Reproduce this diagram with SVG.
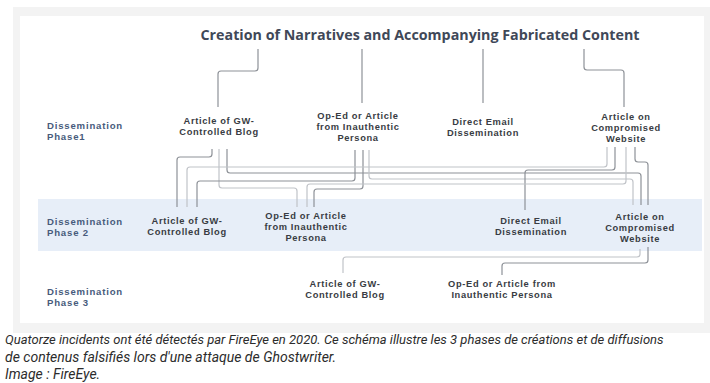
<svg xmlns="http://www.w3.org/2000/svg" width="710" height="383" viewBox="0 0 710 383">
<style>
.title{font-family:"Open Sans","Liberation Sans",sans-serif;font-weight:700;font-size:14.5px;fill:#3f4858;text-anchor:middle}
.ph{font-family:"Liberation Sans",Arial,sans-serif;font-weight:700;font-size:9.6px;fill:#485b7c;letter-spacing:0.8px}
.nd{font-family:"Liberation Sans",Arial,sans-serif;font-weight:700;font-size:9.3px;fill:#393c43;text-anchor:middle;letter-spacing:0.65px}
.cap{font-family:Roboto,"Liberation Sans",sans-serif;font-style:italic;font-size:14px;fill:#2c2c2c}
.cap1{font-size:13px}
.ln{fill:none;stroke:#8e9298;stroke-width:1.2}
.lt{fill:none;stroke:#c0c3c8;stroke-width:1.2}
</style>
<rect x="0" y="0" width="710" height="383" fill="#ffffff"/>
<rect x="13" y="7" width="697" height="326" fill="#f3f3f3"/>
<rect x="20" y="16" width="684" height="307" fill="#ffffff"/>
<rect x="38" y="199" width="664" height="52" fill="#e7eef8"/>

<text class="title" x="420" y="40" textLength="439" lengthAdjust="spacingAndGlyphs">Creation of Narratives and Accompanying Fabricated Content</text>

<g id="phase1-label"><text class="ph" x="47" y="129">Dissemination</text><text class="ph" x="47" y="140">Phase1</text></g>
<g id="phase2-label"><text class="ph" x="47" y="224.5">Dissemination</text><text class="ph" x="47" y="235.5">Phase 2</text></g>
<g id="phase3-label"><text class="ph" x="47" y="294.5">Dissemination</text><text class="ph" x="47" y="305.5">Phase 3</text></g>

<g id="p1-blog"><text class="nd" x="219" y="124">Article of GW-</text><text class="nd" x="219" y="135">Controlled Blog</text></g>
<g id="p1-oped"><text class="nd" x="358" y="119">Op-Ed or Article</text><text class="nd" x="358" y="130">from Inauthentic</text><text class="nd" x="358" y="141">Persona</text></g>
<g id="p1-email"><text class="nd" x="483" y="125">Direct Email</text><text class="nd" x="483" y="136">Dissemination</text></g>
<g id="p1-site"><text class="nd" x="626" y="119.5">Article on</text><text class="nd" x="626" y="130.5">Compromised</text><text class="nd" x="626" y="141.5">Website</text></g>

<g id="p2-blog"><text class="nd" x="187" y="224">Article of GW-</text><text class="nd" x="187" y="235">Controlled Blog</text></g>
<g id="p2-oped"><text class="nd" x="306" y="219">Op-Ed or Article</text><text class="nd" x="306" y="230">from Inauthentic</text><text class="nd" x="306" y="241">Persona</text></g>
<g id="p2-email"><text class="nd" x="531" y="224">Direct Email</text><text class="nd" x="531" y="235">Dissemination</text></g>
<g id="p2-site"><text class="nd" x="640" y="219.5">Article on</text><text class="nd" x="640" y="230.5">Compromised</text><text class="nd" x="640" y="241.5">Website</text></g>

<g id="p3-blog"><text class="nd" x="345" y="287">Article of GW-</text><text class="nd" x="345" y="298">Controlled Blog</text></g>
<g id="p3-oped"><text class="nd" x="502" y="287">Op-Ed or Article from</text><text class="nd" x="502" y="298">Inauthentic Persona</text></g>

<g id="connectors">
<path class="ln" d="M258,49 V68 Q258,71 255,71 H221 Q218,71 218,74 V107"/>
<path class="ln" d="M362,49 V103"/>
<path class="ln" d="M483,49 V103"/>
<path class="ln" d="M584,49 V67 Q584,70 587,70 H621 Q624,70 624,73 V107"/>

<path class="ln" d="M212,149 V154 Q212,157 209,157 H180 Q177,157 177,160 V207"/>
<path class="lt" d="M219,149 V185 Q219,188 222,188 H294 Q297,188 297,191 V207"/>
<path class="ln" d="M227,149 V170 Q227,173 230,173 H638 Q641,173 641,176 V205"/>
<path class="ln" d="M355,150 V178 Q355,181 352,181 H200 Q197,181 197,184 V207"/>
<path class="ln" d="M363,150 V186 Q363,189 360,189 H317 Q314,189 314,192 V207"/>
<path class="lt" d="M369,150 V176 Q369,179 372,179 H630 Q633,179 633,182 V205"/>
<path class="lt" d="M607,147 V164 Q607,167 604,167 H190 Q187,167 187,170 V207"/>
<path class="ln" d="M615,147 V167 Q615,170 612,170 H528 Q525,170 525,173 V210"/>
<path class="lt" d="M626,147 V181 Q626,184 623,184 H310 Q307,184 307,187 V207"/>
<path class="ln" d="M635,147 V159 Q635,162 638,162 H645 Q648,162 648,165 V205"/>

<path class="lt" d="M640,249 V254 Q640,257 637,257 H346 Q343,257 343,260 V273"/>
<path class="ln" d="M648,247 V260 Q648,263 645,263 H505 Q502,263 502,266 V275"/>
</g>

<text class="cap cap1" x="5" y="344">Quatorze incidents ont été détectés par FireEye en 2020. Ce schéma illustre les 3 phases de créations et de diffusions</text>
<text class="cap" x="5" y="362">de contenus falsifiés lors d'une attaque de Ghostwriter.</text>
<text class="cap" x="5" y="379">Image : FireEye.</text>
</svg>
